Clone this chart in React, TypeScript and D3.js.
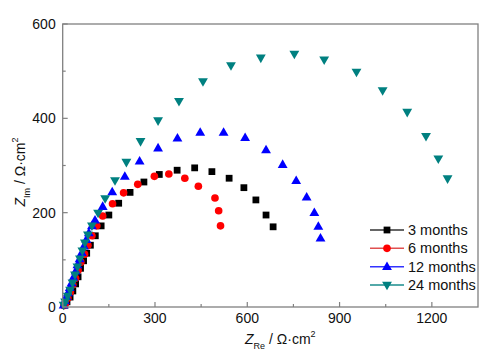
import React from "react";
import * as d3 from "d3";

const seriesNames = ["3 months", "6 months", "12 months", "24 months"];
const seriesColors = ["#000000", "#ff0000", "#0000ff", "#008080"];
const legendLineColors = ["#333333", "#e05050", "#3333ff", "#1a8c8c"];

const threeX = [7, 14, 24, 33, 42, 50, 58, 68, 78, 90, 106, 125, 150, 182, 219, 264, 314, 372, 429, 485, 541, 589, 628, 661, 684];
const threeY = [4, 11, 21, 34, 49, 64, 82, 98, 114, 131, 151, 172, 195, 220, 243, 265, 281, 290, 295, 287, 273, 253, 227, 195, 170];

const sixX = [4, 9, 17, 25, 33, 42, 50, 59, 71, 82, 95, 111, 130, 162, 198, 244, 298, 345, 397, 441, 495, 507, 513];
const sixY = [3, 8, 19, 32, 47, 61, 78, 95, 112, 131, 151, 172, 193, 219, 242, 260, 277, 282, 273, 256, 231, 204, 172];

const twelveX = [3, 7, 12, 17, 23, 29, 35, 42, 48, 55, 62, 69, 77, 85, 95, 105, 130, 161, 202, 250, 310, 373, 447, 523, 593, 661, 715, 759, 793, 818, 831, 838];
const twelveY = [4, 13, 22, 30, 41, 51, 63, 76, 89, 102, 115, 129, 143, 157, 172, 184, 213, 244, 277, 309, 337, 358, 370, 370, 359, 333, 302, 268, 233, 200, 171, 146];

const twentyFourX = [3, 8, 16, 24, 32, 40, 48, 56, 64, 72, 82, 95, 115, 138, 170, 207, 253, 310, 378, 456, 547, 644, 753, 850, 955, 1040, 1120, 1181, 1221, 1251];
const twentyFourY = [4, 11, 23, 36, 51, 68, 85, 102, 119, 136, 153, 172, 199, 230, 268, 307, 351, 395, 436, 478, 512, 528, 536, 524, 498, 459, 413, 362, 314, 272];

const xMajorTicks = [0, 300, 600, 900, 1200];
const xMinorTicks = [150, 450, 750, 1050];
const yMajorTicks = [0, 200, 400, 600];
const yMinorTicks = [100, 300, 500];

const seriesXs = [threeX, sixX, twelveX, twentyFourX];
const seriesYs = [threeY, sixY, twelveY, twentyFourY];

const W = 500;
const H = 357;
const left = 62.7;
const right = 478;
const top = 24;
const bottom = 307;

const FONT = "'Liberation Sans', Arial, sans-serif";
const AXIS = "#808080";

function marker(i: number, cx: number, cy: number, key: string) {
  const color = seriesColors[i];
  if (i === 0) {
    return <path key={key} d={d3.symbol(d3.symbolSquare, 46)()!} transform={`translate(${cx},${cy})`} fill={color} />;
  }
  if (i === 1) {
    return <path key={key} d={d3.symbol(d3.symbolCircle, 46)()!} transform={`translate(${cx},${cy})`} fill={color} />;
  }
  if (i === 2) {
    return <path key={key} d={d3.symbol(d3.symbolTriangle, 42)()!} transform={`translate(${cx},${cy + 0.5})`} fill={color} />;
  }
  return <path key={key} d={d3.symbol(d3.symbolTriangle, 42)()!} transform={`translate(${cx},${cy - 0.5}) rotate(180)`} fill={color} />;
}

export default function App() {
  const x = d3.scaleLinear().domain([0, 1350]).range([left, right]);
  const y = d3.scaleLinear().domain([0, 600]).range([bottom, top]);

  const legendY = [230, 248.3, 266.7, 285];

  return (
    <svg width={W} height={H} style={{ position: "absolute", left: 0, top: 0, background: "#fff" }} fontFamily={FONT}>
      <rect x={0} y={0} width={W} height={H} fill="#fff" />
      {/* data */}
      {seriesXs.map((xs, i) =>
        xs.map((xv, j) => marker(i, x(xv), y(seriesYs[i][j]), `m${i}-${j}`))
      )}
      {/* frame */}
      <rect x={left} y={top} width={right - left} height={bottom - top} fill="none" stroke={AXIS} strokeWidth={1.3} />
      {/* x ticks */}
      {xMajorTicks.map((t) => (
        <g key={`xt${t}`}>
          <line x1={x(t)} x2={x(t)} y1={bottom} y2={bottom - 5} stroke={AXIS} strokeWidth={1.2} />
          <text x={x(t)} y={bottom + 15.5} textAnchor="middle" fontSize={14} fill="#111">{t}</text>
        </g>
      ))}
      {xMinorTicks.map((t) => (
        <line key={`xm${t}`} x1={x(t)} x2={x(t)} y1={bottom} y2={bottom - 3} stroke={AXIS} strokeWidth={1.2} />
      ))}
      {/* y ticks */}
      {yMajorTicks.map((t) => (
        <g key={`yt${t}`}>
          <line x1={left} x2={left + 5} y1={y(t)} y2={y(t)} stroke={AXIS} strokeWidth={1.2} />
          <text x={left - 7} y={y(t)} dy="0.35em" textAnchor="end" fontSize={14} fill="#111">{t}</text>
        </g>
      ))}
      {yMinorTicks.map((t) => (
        <line key={`ym${t}`} x1={left} x2={left + 3} y1={y(t)} y2={y(t)} stroke={AXIS} strokeWidth={1.2} />
      ))}
      {/* x title */}
      <text x={245} y={344} fontSize={14} fill="#111">
        <tspan fontStyle="italic">Z</tspan>
        <tspan fontSize={9} dy={5}>Re</tspan>
        <tspan dy={-5}>{" / Ω·cm"}</tspan>
        <tspan fontSize={9} dy={-7}>2</tspan>
      </text>
      {/* y title */}
      <text transform={`translate(25,172) rotate(-90)`} textAnchor="middle" fontSize={14} fill="#111">
        <tspan fontStyle="italic">Z</tspan>
        <tspan fontSize={9} dy={5}>Im</tspan>
        <tspan dy={-5}>{" / Ω·cm"}</tspan>
        <tspan fontSize={9} dy={-7}>2</tspan>
      </text>
      {/* legend */}
      {seriesNames.map((name, i) => (
        <g key={`lg${i}`}>
          <line x1={370} x2={404} y1={legendY[i]} y2={legendY[i]} stroke={legendLineColors[i]} strokeWidth={1.6} />
          {marker(i, 387, legendY[i], `lgm${i}`)}
          <text x={408} y={legendY[i]} dy="0.35em" fontSize={14.5} fill="#111">{name}</text>
        </g>
      ))}
    </svg>
  );
}
